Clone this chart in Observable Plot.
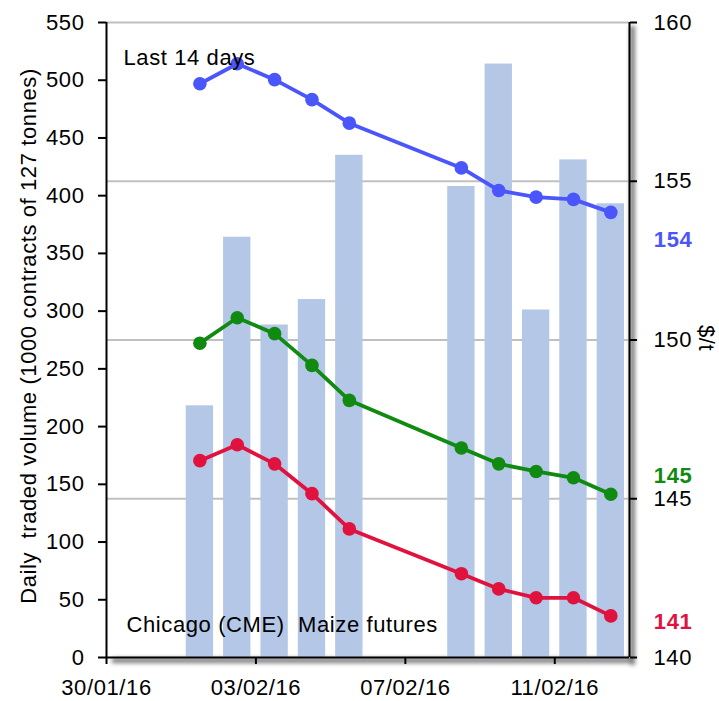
<!DOCTYPE html>
<html>
<head>
<meta charset="utf-8">
<script src="https://cdn.jsdelivr.net/npm/d3@7"></script>
<script src="https://cdn.jsdelivr.net/npm/@observablehq/plot@0.6"></script>
<style>
  html, body { margin: 0; padding: 0; background: #fff; }
  #chart { width: 719px; height: 701px; }
</style>
</head>
<body>
<div id="chart"></div>
<script>
// ---- data ----
const dates = ["2016-02-01","2016-02-02","2016-02-03","2016-02-04","2016-02-05","2016-02-08","2016-02-09","2016-02-10","2016-02-11","2016-02-12"];
const volume = [218, 364, 288, 310, 435, 408, 514, 301, 431, 393];
const priceBlue  = [158.07, 158.70, 158.20, 157.57, 156.83, 155.42, 154.71, 154.50, 154.43, 154.02];
const priceGreen = [149.90, 150.70, 150.20, 149.20, 148.10, 146.60, 146.10, 145.86, 145.66, 145.14];
const priceRed   = [146.20, 146.70, 146.10, 145.16, 144.05, 142.64, 142.16, 141.88, 141.88, 141.31];
const volumeTicks = [0, 50, 100, 150, 200, 250, 300, 350, 400, 450, 500, 550];
const priceTicks = [140, 145, 150, 155, 160];
const xTickDates = ["2016-01-30", "2016-02-03", "2016-02-07", "2016-02-11"];
const xDomain = ["2016-01-30", "2016-02-13"];
const seriesColors = {blue: "#4a55fb", green: "#118a11", red: "#e0123e"};

// ---- helpers ----
const DAY = 864e5;
const pMin = 140, pMax = 160, vMax = 550;
const p2v = p => (p - pMin) * vMax / (pMax - pMin);
const v2p = v => pMin + v * (pMax - pMin) / vMax;
const parse = s => new Date(s + "T00:00:00Z");

const bars = dates.map((d, i) => ({x1: parse(d), x2: new Date(+parse(d) + DAY), v: volume[i]}));
const series = [
  {key: "blue", values: priceBlue, dy: 27},
  {key: "green", values: priceGreen, dy: -19},
  {key: "red", values: priceRed, dy: 5}
];
const linePts = series.flatMap(s => s.values.map((p, i) => ({
  key: s.key, x: new Date(+parse(dates[i]) + DAY / 2), v: p2v(p)
})));
const endLabels = series.map(s => {
  const i = s.values.length - 1;
  return {key: s.key, x: new Date(+parse(dates[i]) + DAY / 2), v: p2v(s.values[i]),
          text: String(Math.round(s.values[i])), dy: s.dy};
});

const font = "'Liberation Sans', Arial, sans-serif";

const plot = Plot.plot({
  width: 719,
  height: 701,
  marginLeft: 106,
  marginRight: 90,
  marginTop: 22,
  marginBottom: 44,
  style: {fontFamily: font, fontSize: "22px", letterSpacing: "0.6px", color: "#000", background: "#fff", overflow: "visible"},
  x: {type: "utc", domain: xDomain.map(parse), axis: null},
  y: {domain: [0, vMax], axis: null},
  marks: [
    // gridlines at right-axis ticks
    Plot.ruleY(priceTicks.slice(1).map(p2v), {stroke: "#c0c0c0", strokeWidth: 2}),
    // bars
    Plot.rectY(bars, {x1: "x1", x2: "x2", y: "v", fill: "#b4c7e7", insetLeft: 5, insetRight: 5}),
    // lines
    Plot.line(linePts, {x: "x", y: "v", z: "key", stroke: d => seriesColors[d.key], strokeWidth: 3.8}),
    Plot.dot(linePts, {x: "x", y: "v", r: 6.8, fill: d => seriesColors[d.key]}),
    // end labels
    ...endLabels.map(l => Plot.text([l], {
      x: "x", y: "v", text: "text", dx: 43, dy: l.dy + 1, textAnchor: "start", lineAnchor: "middle",
      fill: seriesColors[l.key], fontWeight: "bold"
    })),
    // axes lines
    Plot.ruleX([parse(xDomain[0]), parse(xDomain[1])], {stroke: "#000", strokeWidth: 2}),
    Plot.ruleY([0], {stroke: "#000", strokeWidth: 2}),
    // left axis
    Plot.axisY({ticks: volumeTicks, tickSize: 8, tickPadding: 14, label: null, tickFormat: d3.format("d"), strokeWidth: 2, letterSpacing: "0px"}),
    // right axis
    Plot.axisY({anchor: "right", ticks: priceTicks.map(p2v), tickFormat: v => d3.format("d")(v2p(v)),
                tickSize: 7, tickPadding: 17, label: null, strokeWidth: 2, letterSpacing: "0px"}),
    // bottom axis
    Plot.axisX({ticks: xTickDates.map(parse), tickFormat: d3.utcFormat("%d/%m/%y"), tickSize: 7,
                tickPadding: 15, label: null, strokeWidth: 2, letterSpacing: "1px"}),
    // axis titles
    Plot.text(["Daily\u00a0 traded volume (1000 contracts of 127 tonnes)"], {
      frameAnchor: "left", dx: -78, dy: -4, rotate: -90, textAnchor: "middle", lineAnchor: "middle",
      fontSize: 22, letterSpacing: "0.4px"
    }),
    Plot.text(["$/t"], {
      frameAnchor: "right", dx: 77, dy: -2, rotate: 90, textAnchor: "middle", lineAnchor: "middle"
    }),
    // annotations
    Plot.text(["Last 14 days"], {frameAnchor: "top-left", dx: 17, dy: 35.4, textAnchor: "start", lineAnchor: "middle"}),
    Plot.text(["Chicago (CME)\u00a0 Maize futures"], {frameAnchor: "bottom-left", dx: 20, dy: -32.6, textAnchor: "start", lineAnchor: "middle"})
  ]
});

// soft drop shadow behind right and bottom axes (positions from scales)
const svg = d3.select(plot);
const xs = plot.scale("x"), ys = plot.scale("y");
const xL = xs.apply(parse(xDomain[0])), xR = xs.apply(parse(xDomain[1]));
const yT = ys.apply(vMax), yB = ys.apply(0);
const defs = svg.insert("defs", ":first-child");
defs.append("filter").attr("id", "axshadow").attr("x", "-50%").attr("y", "-50%").attr("width", "200%").attr("height", "200%")
  .append("feGaussianBlur").attr("stdDeviation", 2.2);
const sh = svg.insert("g", "defs + *").attr("filter", "url(#axshadow)").attr("fill", "#7a7a7a");
sh.append("rect").attr("x", xR + 1).attr("y", yT + 4).attr("width", 5).attr("height", yB - yT + 4);
sh.append("rect").attr("x", xL + 6).attr("y", yB + 1).attr("width", xR - xL).attr("height", 5);

document.getElementById("chart").appendChild(plot);
</script>
</body>
</html>
